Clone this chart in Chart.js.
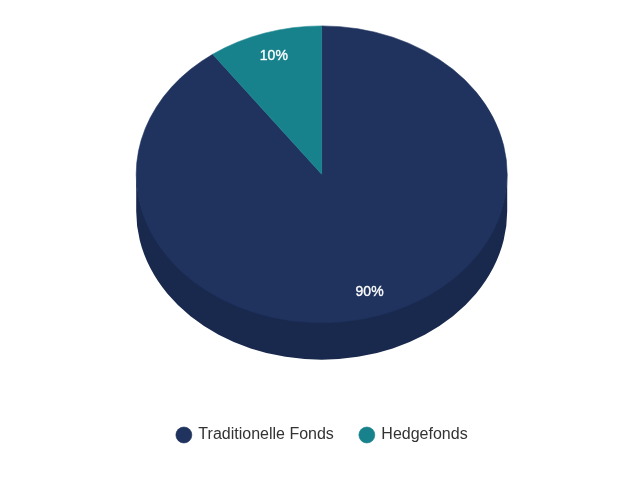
<!DOCTYPE html>
<html>
<head>
<meta charset="utf-8">
<style>
  html, body { margin: 0; padding: 0; background: #fff; }
  canvas { display: block; }
</style>
<script src="https://cdn.jsdelivr.net/npm/chart.js@4/dist/chart.umd.min.js"></script>
</head>
<body>
<canvas id="chart" width="640" height="480"></canvas>
<script>
const categories = ['Traditionelle Fonds', 'Hedgefonds'];
const shares = [90, 10];
const colors = ['#1f335e', '#17828c'];
const sideColors = ['#19294d', '#12686f'];

const squash = 0.8;
const depth = 37;
const topCenterY = 174.3;
const pieShiftX = -0.8;
const labelRadius = 0.835;

function tilt(ctx, arc) {
    ctx.translate(pieShiftX, topCenterY);
    ctx.scale(1, squash);
    ctx.translate(0, -arc.y);
}

// Chart.js has no 3d pie: squash the flat one and put a wall under it
const tiltedPie = {
    id: 'tiltedPie',
    beforeDatasetsDraw(chart) {
        const ctx = chart.ctx;
        const arcs = chart.getDatasetMeta(0).data;

        arcs.forEach((arc, i) => {
            const lo = Math.max(arc.startAngle, 0);
            const hi = Math.min(arc.endAngle, Math.PI);
            if (hi <= lo) return;
            ctx.save();
            ctx.translate(arc.x + pieShiftX, topCenterY);
            ctx.scale(1, squash);
            ctx.beginPath();
            // wall starts a bit inside the top face so no pale seam shows
            ctx.arc(0, -3, arc.outerRadius, lo, hi);
            ctx.arc(0, depth / squash, arc.outerRadius, hi, lo, true);
            ctx.closePath();
            ctx.fillStyle = sideColors[i];
            ctx.fill();
            ctx.restore();
        });

        ctx.save();
        tilt(ctx, arcs[0]);
    },
    afterDatasetsDraw(chart) {
        const ctx = chart.ctx;
        ctx.restore();

        const arcs = chart.getDatasetMeta(0).data;
        ctx.save();
        ctx.font = '14px "Liberation Sans", Arial, sans-serif';
        ctx.fillStyle = '#ffffff';
        ctx.strokeStyle = 'rgba(255,255,255,0.7)';
        ctx.lineWidth = 0.5;
        ctx.textAlign = 'center';
        ctx.textBaseline = 'middle';
        arcs.forEach((arc, i) => {
            const mid = (arc.startAngle + arc.endAngle) / 2;
            const x = arc.x + pieShiftX + Math.cos(mid) * arc.outerRadius * labelRadius;
            const y = topCenterY + Math.sin(mid) * arc.outerRadius * labelRadius * squash;
            ctx.strokeText(shares[i] + '%', x, y);
            ctx.fillText(shares[i] + '%', x, y);
        });
        ctx.restore();
    }
};

new Chart(document.getElementById('chart'), {
    type: 'pie',
    data: {
        labels: categories,
        datasets: [{
            data: shares,
            backgroundColor: colors,
            borderColor: colors,
            borderWidth: 0.6,
            radius: 185.5,
            clip: false
        }]
    },
    options: {
        responsive: false,
        devicePixelRatio: 1,
        animation: false,
        events: [],
        layout: {
            padding: { left: 5, bottom: 27 }
        },
        plugins: {
            tooltip: { enabled: false },
            legend: {
                position: 'bottom',
                labels: {
                    usePointStyle: true,
                    pointStyle: 'circle',
                    boxWidth: 13,
                    boxHeight: 11.3,
                    padding: 26.5,
                    color: '#333333',
                    font: { family: '"Liberation Sans", Arial, sans-serif', size: 16 }
                }
            }
        }
    },
    plugins: [tiltedPie]
});
</script>
</body>
</html>
